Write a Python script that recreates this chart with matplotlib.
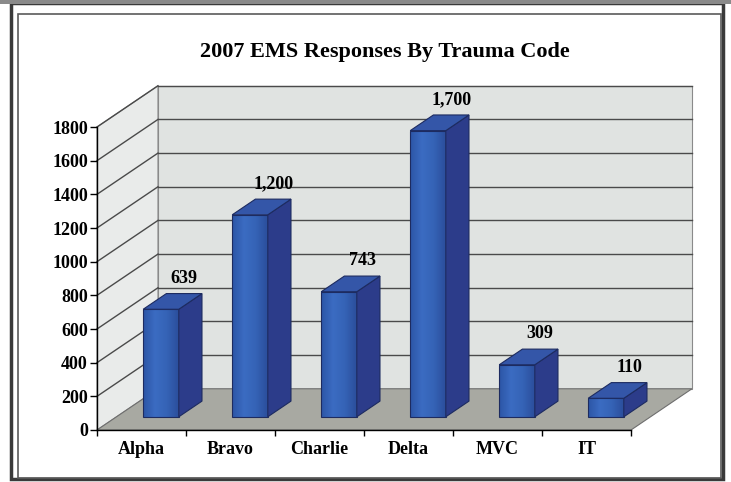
import numpy as np
import matplotlib
matplotlib.use('Agg')
import matplotlib.pyplot as plt
from matplotlib.patches import Polygon, Rectangle
from matplotlib.colors import LinearSegmentedColormap

categories = ['Alpha', 'Bravo', 'Charlie', 'Delta', 'MVC', 'IT']
values = [639, 1200, 743, 1700, 309, 110]
value_labels = ['639', '1,200', '743', '1,700', '309', '110']
yticks = list(range(0, 1801, 200))
title = '2007 EMS Responses By Trauma Code'

W, H = 731, 482
plt.rcParams['font.family'] = ['Liberation Serif', 'DejaVu Serif']
plt.rcParams['font.weight'] = 'bold'

fig = plt.figure(figsize=(W / 100, H / 100), dpi=100)
fig.patch.set_facecolor('white')

def px(x0, y0, x1, y1):
    # pixel box (from top-left) -> figure fraction rect
    return [x0 / W, 1 - y1 / H, (x1 - x0) / W, (y1 - y0) / H]

ax = fig.add_axes(px(97, 127, 631, 430))
ax.patch.set_alpha(0)

# depth of the 3d box in data units
DX, DY = 0.685, 245
ymax = 1800
n = len(categories)

def poly(pts, fc, ec='none', lw=0.8, z=1):
    p = Polygon(pts, closed=True, facecolor=fc, edgecolor=ec, linewidth=lw,
                clip_on=False, zorder=z)
    ax.add_patch(p)

# walls and floor
poly([(DX, DY), (n + DX, DY), (n + DX, ymax + DY), (DX, ymax + DY)], '#e0e3e1', '#8a8a8a', 0.8, 0.5)
poly([(0, 0), (DX, DY), (DX, ymax + DY), (0, ymax)], '#e9ebea', '#8a8a8a', 0.8, 0.5)
poly([(0, 0), (n, 0), (n + DX, DY), (DX, DY)], '#a8a9a2', '#6e6e6e', 0.8, 0.6)

for v in yticks[1:]:
    ax.plot([DX, n + DX], [v + DY, v + DY], color='#4a4a4a', lw=1.0, clip_on=False, zorder=0.7)
    ax.plot([0, DX], [v, v + DY], color='#4a4a4a', lw=1.0, clip_on=False, zorder=0.7)

# bars
front_cmap = LinearSegmentedColormap.from_list('front', ['#2c55a6', '#3b6cc2', '#3563b6', '#2b4e9c'])
grad = np.linspace(0, 1, 64).reshape(1, -1)
f0, f1 = 0.32, 0.70
bw = 0.40
for i, (v, lab) in enumerate(zip(values, value_labels)):
    x0 = i + 0.5 - bw / 2
    x1 = i + 0.5 + bw / 2
    a = (x0 + f0 * DX, f0 * DY)
    b = (x1 + f0 * DX, f0 * DY)
    c = (x1 + f1 * DX, f1 * DY)
    ax.imshow(grad, cmap=front_cmap, aspect='auto', interpolation='bicubic',
              extent=(a[0], b[0], a[1], a[1] + v), zorder=2.9)
    poly([a, b, (b[0], b[1] + v), (a[0], a[1] + v)], 'none', '#1d2b60', 0.8, 3)
    poly([b, c, (c[0], c[1] + v), (b[0], b[1] + v)], '#2c3c8a', '#1d2b60', 0.8, 3)
    poly([(a[0], a[1] + v), (b[0], b[1] + v), (c[0], c[1] + v),
          (x0 + f1 * DX, f1 * DY + v)], '#3456a8', '#1d2b60', 0.8, 3)
    ax.annotate(lab, ((x0 + x1) / 2 + f1 * DX, f1 * DY + v), xytext=(0, 5),
                textcoords='offset points', ha='center', va='bottom',
                fontsize=13, fontweight='bold', annotation_clip=False, zorder=4)

ax.set_xlim(0, n)
ax.set_ylim(0, 1800)

# axes
for s in ['top', 'right']:
    ax.spines[s].set_visible(False)
for s in ['left', 'bottom']:
    ax.spines[s].set_color('black')
    ax.spines[s].set_linewidth(1.0)
    ax.spines[s].set_zorder(2)
ax.set_yticks(yticks)
ax.set_yticklabels([str(t) for t in yticks])
ax.tick_params(axis='y', direction='out', length=5, width=1, pad=1.5, labelsize=13)
ax.set_xticks(range(n + 1))
ax.set_xticklabels([''] * (n + 1))
ax.set_xticks([i + 0.5 for i in range(n)], minor=True)
ax.set_xticklabels(categories, minor=True)
ax.tick_params(axis='x', which='major', direction='out', length=4, width=1)
ax.tick_params(axis='x', which='minor', length=0, pad=8, labelsize=13)
for t in ax.get_yticklabels() + ax.get_xticklabels(minor=True):
    t.set_fontweight('bold')

fig.text(385 / W, 1 - 52 / H, title, ha='center', va='center',
         fontsize=16, fontweight='bold')

# frames of the scanned chart
fig.patches.append(Rectangle((11 / W, 1 - 479 / H), (723 - 11) / W, (479 - 3) / H,
                             transform=fig.transFigure, fill=False,
                             edgecolor='#3a3a3a', linewidth=2.5))
fig.patches.append(Rectangle((17.5 / W, 1 - 478 / H), (721 - 17.5) / W, (478 - 14) / H,
                             transform=fig.transFigure, fill=False,
                             edgecolor='#5a5a5a', linewidth=1.2))
fig.patches.append(Rectangle((0, 1 - 4 / H), 1, 4 / H, transform=fig.transFigure,
                             facecolor='#8a8a8a', edgecolor='none'))

fig.savefig('out.png', dpi=100)
